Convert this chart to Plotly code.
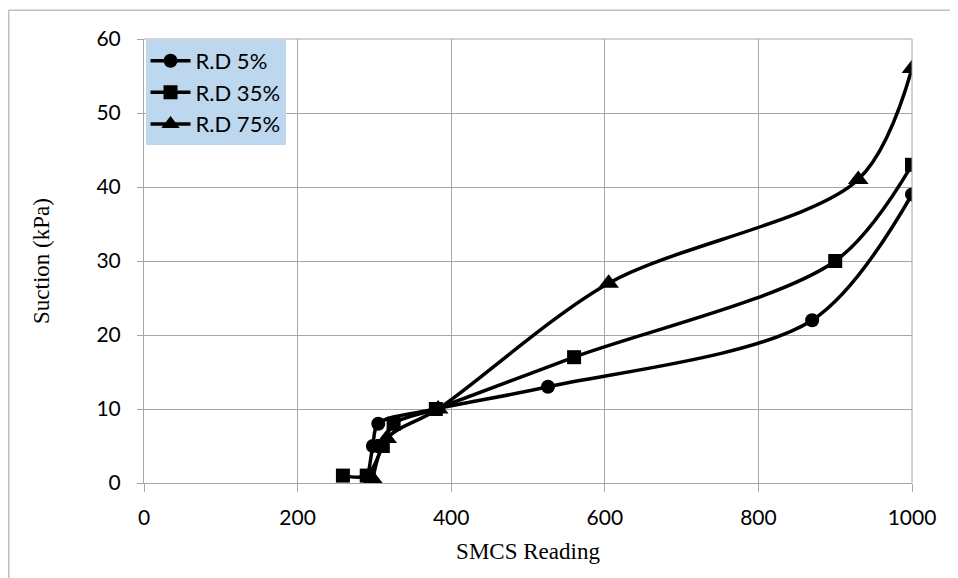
import plotly.graph_objects as go

# Data
rd5_x = [292, 298, 305, 380, 526, 870, 1000]
rd5_y = [1, 5, 8, 10, 13, 22, 39]
rd35_x = [259, 290, 311, 325, 380, 560, 900, 1000]
rd35_y = [1, 1, 5, 8, 10, 17, 30, 43]
rd75_x = [298, 316, 383, 605, 930, 1000]
rd75_y = [0.5, 6, 10, 27, 41, 56]

series = [
    ("R.D 5%", rd5_x, rd5_y, "circle"),
    ("R.D 35%", rd35_x, rd35_y, "square"),
    ("R.D 75%", rd75_x, rd75_y, "triangle-up"),
]

x_ticks = [0, 200, 400, 600, 800, 1000]
y_ticks = [0, 10, 20, 30, 40, 50, 60]

fig = go.Figure()
for name, xs, ys, sym in series:
    fig.add_trace(go.Scatter(
        x=xs, y=ys, name=name, mode="lines+markers",
        line=dict(color="black", width=3.5, shape="spline", smoothing=0.9),
        marker=dict(symbol=sym, size=18 if sym == "triangle-up" else 14, color="black"),
    ))

grid = "#A6A6A6"
fig.update_layout(
    width=950, height=570,
    margin=dict(l=136, r=46, t=31, b=95),
    paper_bgcolor="white", plot_bgcolor="white",
    font=dict(family="Lato, 'Open Sans', sans-serif", color="black"),
    showlegend=True,
    legend=dict(
        x=0.002, y=0.998, xanchor="left", yanchor="top",
        bgcolor="#BDD7EE", borderwidth=0,
        font=dict(size=22, family="Lato, sans-serif", color="black"),
        tracegroupgap=0, itemwidth=40,
    ),
    xaxis=dict(
        range=[0, 1000], tickvals=x_ticks, ticktext=[str(v) for v in x_ticks],
        showgrid=True, gridcolor=grid, gridwidth=1,
        ticks="outside", ticklen=8, tickcolor=grid,
        showline=True, linecolor=grid, linewidth=1, zeroline=False,
        tickfont=dict(size=21), mirror=False, ticklabelstandoff=8,
        title=dict(text="SMCS Reading", font=dict(family="Liberation Serif, serif", size=23), standoff=14),
    ),
    yaxis=dict(
        range=[0, 60], tickvals=y_ticks,
        showgrid=True, gridcolor=grid, gridwidth=1,
        ticks="outside", ticklen=6, tickcolor=grid,
        showline=True, linecolor=grid, linewidth=1, zeroline=False,
        tickfont=dict(size=21), ticklabelstandoff=12,
        title=dict(text="Suction (kPa)", font=dict(family="Liberation Serif, serif", size=23), standoff=40),
    ),
    shapes=[
        dict(type="rect", xref="paper", yref="paper",
             x0=-0.176, x1=1.08, y0=-0.27, y1=1.065,
             line=dict(color="#A0A0A0", width=1), fillcolor="rgba(0,0,0,0)", layer="below"),
        dict(type="line", xref="paper", yref="paper", x0=1, x1=1, y0=0, y1=1,
             line=dict(color=grid, width=1)),
        dict(type="line", xref="paper", yref="paper", x0=0, x1=1, y0=1, y1=1,
             line=dict(color=grid, width=1)),
    ],
)

fig.write_html("out.html")
